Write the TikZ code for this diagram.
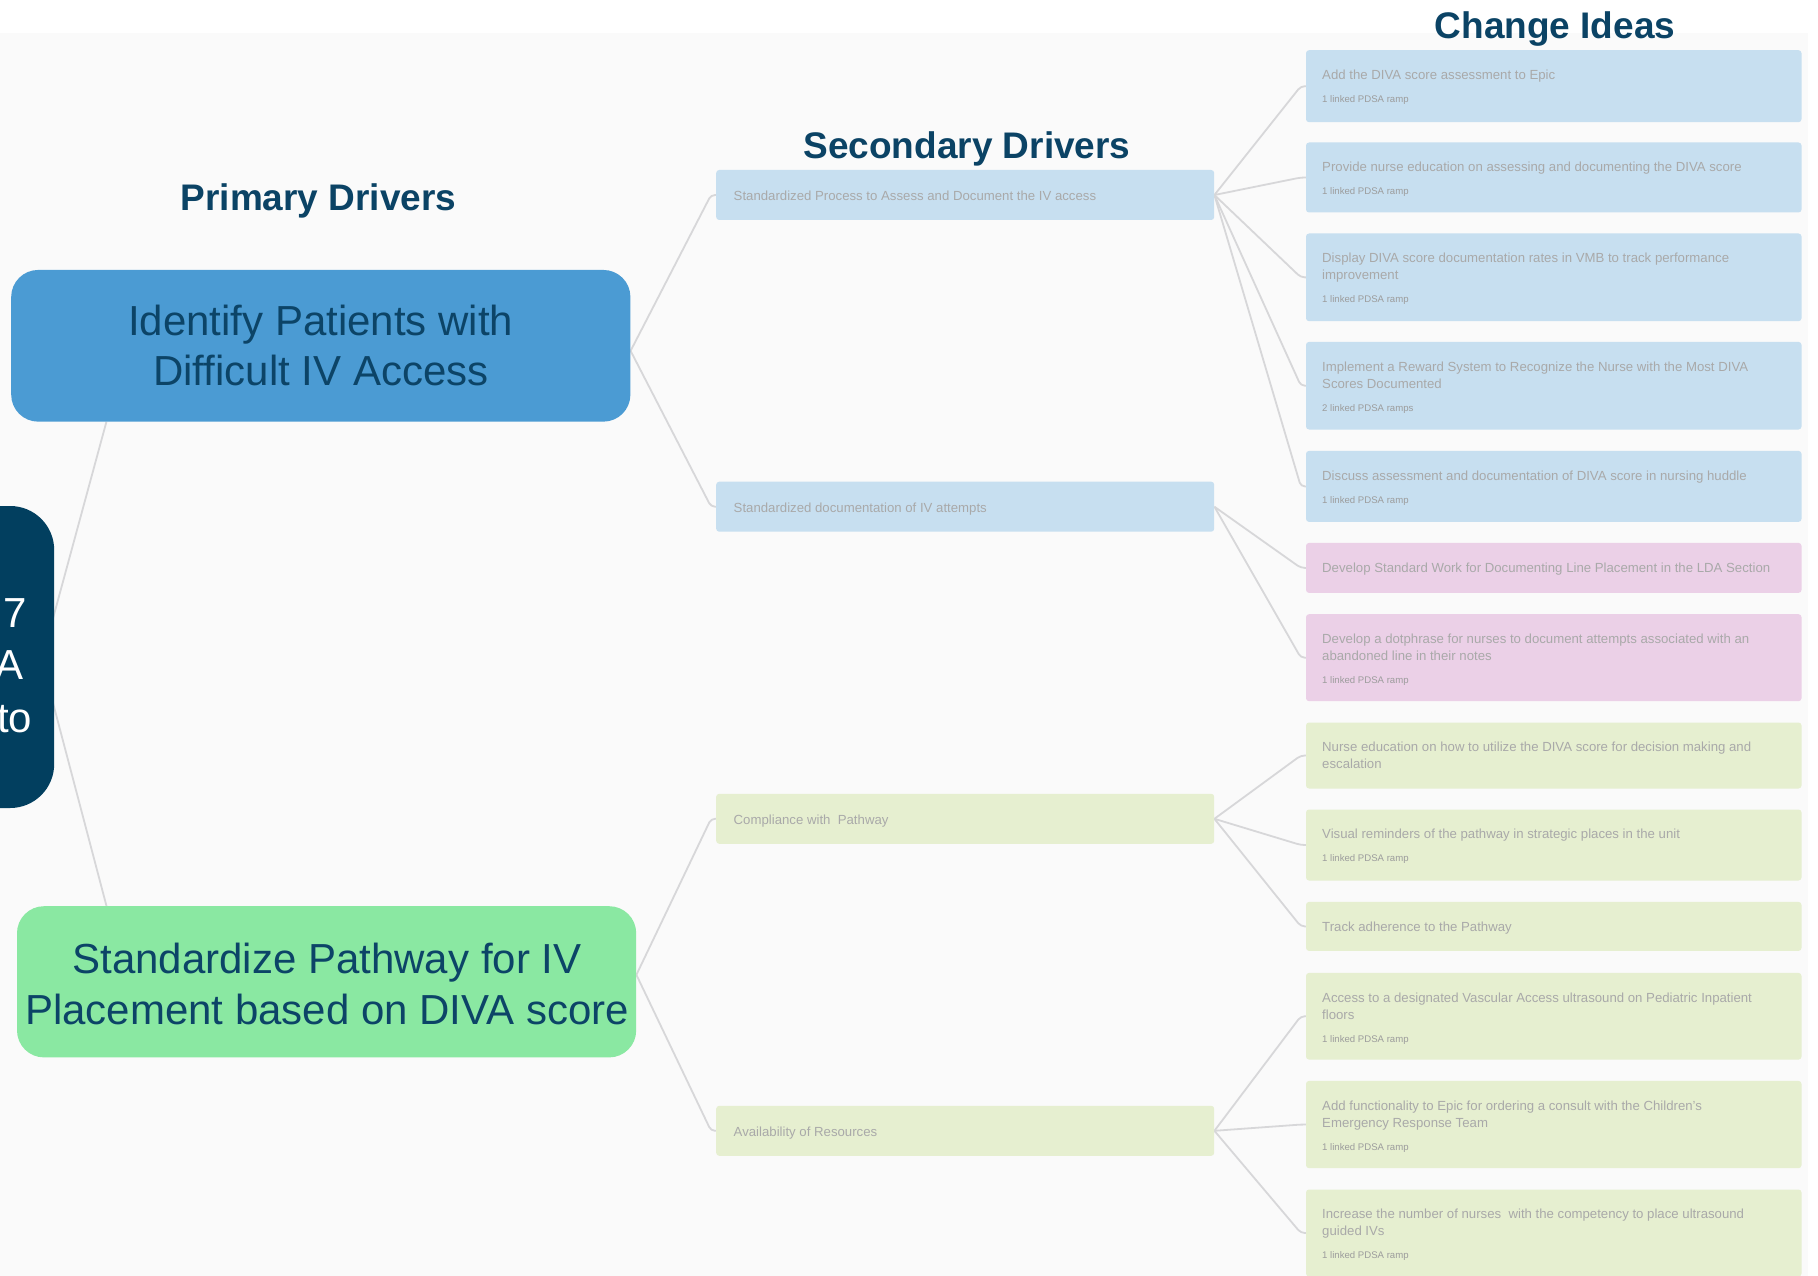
\documentclass[tikz,border=0pt]{standalone}
\usepackage{fontspec}
\setmainfont{Liberation Sans}
\usetikzlibrary{calc,backgrounds}
\definecolor{navy}{HTML}{023F5F}
\definecolor{titlec}{HTML}{0B4365}
\definecolor{ptextc}{HTML}{0C4467}
\definecolor{p1c}{HTML}{4B9BD3}
\definecolor{p2c}{HTML}{8AE8A2}
\definecolor{lblue}{HTML}{C7DFF0}
\definecolor{lpink}{HTML}{EBD0E7}
\definecolor{lgreen}{HTML}{E6EFD0}
\definecolor{bgc}{HTML}{FAFAFA}
\definecolor{linec}{HTML}{D7D7D9}
\definecolor{txtgrey}{HTML}{A9A9A9}
\definecolor{smallgrey}{HTML}{9C9C9C}
\begin{document}
\begin{tikzpicture}[x=1pt,y=-1pt,
  sbox/.style={rectangle,rounded corners=3pt,minimum width=498pt,minimum height=50pt,inner sep=0pt,anchor=west},
  cbox/.style={rectangle,rounded corners=3pt,minimum width=495.5pt,inner sep=0pt,anchor=north west},
  btext/.style={anchor=base west,inner sep=0pt,align=left,text=txtgrey,font=\fontsize{13.2}{16.8}\selectfont},
  stext/.style={anchor=base west,inner sep=0pt,text=smallgrey,font=\fontsize{9.6}{11.5}\selectfont},
  title/.style={anchor=base,inner sep=0pt,text=titlec,font=\fontsize{37}{44}\selectfont\bfseries},
  pbox/.style={rectangle,rounded corners=27pt,minimum width=619.2pt,inner sep=0pt},
  ptext/.style={anchor=base,inner sep=0pt,align=center,text=ptextc,font=\fontsize{42}{50.6}\selectfont},
  aimtext/.style={anchor=base east,inner sep=0pt,text=white,font=\fontsize{42}{52}\selectfont},
  conn/.style={draw=linec,line width=1.8pt,rounded corners=4pt},
]
\useasboundingbox (0,0) rectangle (1818,1276);

% titles
\node[title] (tP) at (318.5,210.7) {Primary Drivers};
\node[title] (tS) at (967,158.5) {Secondary Drivers};
\node[title] (tC) at (1555,38.3) {Change Ideas};

% aim
\node[rectangle,rounded corners=44pt,fill=navy,minimum width=240pt,minimum height=302pt,anchor=east,inner sep=0pt] (aim) at (54.4,657) {};
\node[aimtext] (aim1) at (26.8,627.3) {7};
\node[aimtext] (aim2) at (24.1,679.6) {A};
\node[aimtext] (aim3) at (32.4,732.3) {to};

% primary drivers (base anchor = baseline of last line)
\node[pbox,fill=p1c,minimum height=151.7pt] (P1) at (320.8,345.8) {};
\node[ptext] (P1t) at (320.8,385.9) {Identify Patients with\\Difficult IV Access};
\node[pbox,fill=p2c,minimum height=151.2pt] (P2) at (326.6,981.8) {};
\node[ptext] (P2t) at (327,1024.1) {Standardize Pathway for IV\\Placement based on DIVA score};

% secondary drivers
\node[sbox,fill=lblue] (S1) at (716,195) {};
\node[btext] (S1t) at ($(S1.west)+(17.5,6)$) {Standardized Process to Assess and Document the IV access};
\node[sbox,fill=lblue] (S2) at (716,506.7) {};
\node[btext] (S2t) at ($(S2.west)+(17.5,6)$) {Standardized documentation of IV attempts};
\node[sbox,fill=lgreen] (S3) at (716,818.8) {};
\node[btext] (S3t) at ($(S3.west)+(17.5,6)$) {Compliance with~ Pathway};
\node[sbox,fill=lgreen] (S4) at (716,1130.8) {};
\node[btext] (S4t) at ($(S4.west)+(17.5,6)$) {Availability of Resources};

% change ideas
\node[cbox,fill=lblue,minimum height=72pt] (C1) at (1305.8,50) {};
\node[btext] (C1t) at ($(C1.north west)+(16.2,29.5)$) {Add the DIVA score assessment to Epic};
\node[stext] (C1s) at ($(C1.north west)+(16.2,52.5)$) {1 linked PDSA ramp};

\node[cbox,fill=lblue,minimum height=70pt] (C2) at (1305.8,142.3) {};
\node[btext] (C2t) at ($(C2.north west)+(16.2,29.5)$) {Provide nurse education on assessing and documenting the DIVA score};
\node[stext] (C2s) at ($(C2.north west)+(16.2,52.5)$) {1 linked PDSA ramp};

\node[cbox,fill=lblue,minimum height=87.7pt] (C3) at (1305.8,233.3) {};
\node[btext] (C3t) at ($(C3.north west)+(16.2,46.3)$) {Display DIVA score documentation rates in VMB to track performance\\improvement};
\node[stext] (C3s) at ($(C3.north west)+(16.2,69.3)$) {1 linked PDSA ramp};

\node[cbox,fill=lblue,minimum height=87.6pt] (C4) at (1305.8,341.7) {};
\node[btext] (C4t) at ($(C4.north west)+(16.2,46.3)$) {Implement a Reward System to Recognize the Nurse with the Most DIVA\\Scores Documented};
\node[stext] (C4s) at ($(C4.north west)+(16.2,69.3)$) {2 linked PDSA ramps};

\node[cbox,fill=lblue,minimum height=71pt] (C5) at (1305.8,450.7) {};
\node[btext] (C5t) at ($(C5.north west)+(16.2,29.5)$) {Discuss assessment and documentation of DIVA score in nursing huddle};
\node[stext] (C5s) at ($(C5.north west)+(16.2,52.5)$) {1 linked PDSA ramp};

\node[cbox,fill=lpink,minimum height=50pt] (C6) at (1305.8,542.7) {};
\node[btext] (C6t) at ($(C6.north west)+(16.2,29.5)$) {Develop Standard Work for Documenting Line Placement in the LDA Section};

\node[cbox,fill=lpink,minimum height=87pt] (C7) at (1305.8,614) {};
\node[btext] (C7t) at ($(C7.north west)+(16.2,46.3)$) {Develop a dotphrase for nurses to document attempts associated with an\\abandoned line in their notes};
\node[stext] (C7s) at ($(C7.north west)+(16.2,69.3)$) {1 linked PDSA ramp};

\node[cbox,fill=lgreen,minimum height=66pt] (C8) at (1305.8,722.3) {};
\node[btext] (C8t) at ($(C8.north west)+(16.2,46.3)$) {Nurse education on how to utilize the DIVA score for decision making and\\escalation};

\node[cbox,fill=lgreen,minimum height=71pt] (C9) at (1305.8,809.3) {};
\node[btext] (C9t) at ($(C9.north west)+(16.2,29.5)$) {Visual reminders of the pathway in strategic places in the unit};
\node[stext] (C9s) at ($(C9.north west)+(16.2,52.5)$) {1 linked PDSA ramp};

\node[cbox,fill=lgreen,minimum height=49pt] (C10) at (1305.8,901.7) {};
\node[btext] (C10t) at ($(C10.north west)+(16.2,29.5)$) {Track adherence to the Pathway};

\node[cbox,fill=lgreen,minimum height=86.7pt] (C11) at (1305.8,972.7) {};
\node[btext] (C11t) at ($(C11.north west)+(16.2,46.3)$) {Access to a designated Vascular Access ultrasound on Pediatric Inpatient\\floors};
\node[stext] (C11s) at ($(C11.north west)+(16.2,69.3)$) {1 linked PDSA ramp};

\node[cbox,fill=lgreen,minimum height=87.3pt] (C12) at (1305.8,1080.7) {};
\node[btext] (C12t) at ($(C12.north west)+(16.2,46.3)$) {Add functionality to Epic for ordering a consult with the Children's\\Emergency Response Team};
\node[stext] (C12s) at ($(C12.north west)+(16.2,69.3)$) {1 linked PDSA ramp};

\node[cbox,fill=lgreen,minimum height=87pt] (C13) at (1305.8,1189.3) {};
\node[btext] (C13t) at ($(C13.north west)+(16.2,46.3)$) {Increase the number of nurses~ with the competency to place ultrasound\\guided IVs};
\node[stext] (C13s) at ($(C13.north west)+(16.2,69.3)$) {1 linked PDSA ramp};

% connection points
\coordinate (m12) at ($(S1.west)!.5!(S2.west)$);
\coordinate (P1out) at (P1.east |- m12);
\coordinate (m34) at ($(S3.west)!.5!(S4.west)$);
\coordinate (P2out) at (P2.east |- m34);
\coordinate (aimout) at ($(aim.east)+(-12.7,3)$);
\coordinate (P1hook) at ($(P1.south west)+(95.4,0)$);
\coordinate (P2hook) at ($(P2.north west)+(89.7,0)$);

\begin{scope}[on background layer]
  \fill[white] (0,0) rectangle (1818,1276);
  \fill[bgc] (0,33) rectangle (1808,1276);
  \draw[conn] (aimout) -- (P1hook);
  \draw[conn] (aimout) -- (P2hook);
  \foreach \s in {S1,S2} \draw[conn] (P1out) -- ($(\s.west)+(-5,0)$) -- (\s.west);
  \foreach \s in {S3,S4} \draw[conn] (P2out) -- ($(\s.west)+(-5,0)$) -- (\s.west);
  \foreach \c in {C1,C2,C3,C4,C5} \draw[conn] (S1.east) -- ($(\c.west)+(-5,0)$) -- (\c.west);
  \foreach \c in {C6,C7} \draw[conn] (S2.east) -- ($(\c.west)+(-5,0)$) -- (\c.west);
  \foreach \c in {C8,C9,C10} \draw[conn] (S3.east) -- ($(\c.west)+(-5,0)$) -- (\c.west);
  \foreach \c in {C11,C12,C13} \draw[conn] (S4.east) -- ($(\c.west)+(-5,0)$) -- (\c.west);
\end{scope}
\end{tikzpicture}
\end{document}
